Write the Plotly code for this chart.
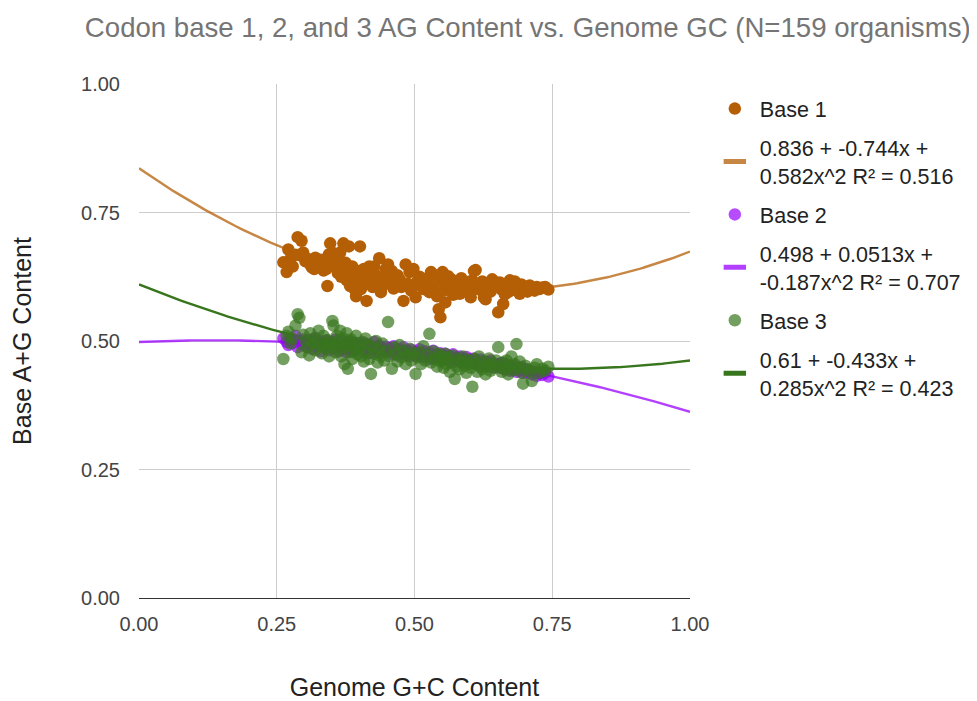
import numpy as np
import plotly.graph_objects as go

title_text = "Codon base 1, 2, and 3 AG Content vs. Genome GC (N=159 organisms)"
x_title = "Genome G+C Content"
y_title = "Base A+G Content"
tick_vals = [0.0, 0.25, 0.5, 0.75, 1.0]
tick_text = ["0.00", "0.25", "0.50", "0.75", "1.00"]

series_names = ["Base 1", "Base 2", "Base 3"]
trend_labels = [
    "0.836 + -0.744x +<br>0.582x^2 R² = 0.516",
    "0.498 + 0.0513x +<br>-0.187x^2 R² = 0.707",
    "0.61 + -0.433x +<br>0.285x^2 R² = 0.423",
]
trend_coefs = [
    [0.836, -0.744, 0.582],
    [0.498, 0.0513, -0.187],
    [0.61, -0.433, 0.285],
]

genome_gc = [
    0.262, 0.268, 0.271, 0.275, 0.279, 0.284, 0.288, 0.291, 0.295, 0.298,
    0.302, 0.305, 0.309, 0.311, 0.314, 0.318, 0.320, 0.323, 0.326, 0.329, 0.332, 0.335, 0.337, 0.340, 0.342, 0.345, 0.347, 0.349,
    0.351, 0.353, 0.355, 0.357, 0.359, 0.361, 0.363, 0.365, 0.367, 0.369, 0.371, 0.373, 0.375, 0.377, 0.379, 0.381, 0.383, 0.385, 0.387, 0.389, 0.391, 0.394, 0.396, 0.398,
    0.401, 0.403, 0.406, 0.408, 0.411, 0.413, 0.416, 0.418, 0.421, 0.424, 0.427, 0.430, 0.433, 0.436, 0.439, 0.442, 0.445, 0.448,
    0.452, 0.455, 0.459, 0.462, 0.466, 0.469, 0.473, 0.476, 0.480, 0.484, 0.487, 0.491, 0.494, 0.498,
    0.502, 0.505, 0.509, 0.512, 0.516, 0.519, 0.523, 0.527, 0.530, 0.534, 0.537, 0.541, 0.544, 0.547, 0.549,
    0.551, 0.553, 0.556, 0.558, 0.561, 0.564, 0.567, 0.570, 0.573, 0.576, 0.579, 0.582, 0.585, 0.588, 0.591, 0.594, 0.597, 0.599,
    0.602, 0.605, 0.608, 0.611, 0.614, 0.617, 0.620, 0.623, 0.626, 0.629, 0.632, 0.635, 0.638, 0.641, 0.644, 0.648,
    0.652, 0.655, 0.658, 0.661, 0.664, 0.667, 0.670, 0.673, 0.676, 0.679, 0.682, 0.685, 0.688, 0.691, 0.694, 0.697,
    0.701, 0.705, 0.709, 0.713, 0.718, 0.722, 0.727, 0.732, 0.737, 0.743,
]

base1_ag = [
    0.653, 0.634, 0.678, 0.660, 0.645, 0.668, 0.702, 0.667, 0.695, 0.672,
    0.655, 0.660, 0.653, 0.648, 0.643, 0.640, 0.662, 0.653, 0.650, 0.645, 0.658, 0.637, 0.652, 0.640, 0.607, 0.669, 0.690, 0.655,
    0.672, 0.648, 0.645, 0.662, 0.640, 0.632, 0.655, 0.672, 0.625, 0.642, 0.690, 0.630, 0.652, 0.618, 0.638, 0.684, 0.607, 0.628, 0.645, 0.612, 0.601, 0.587, 0.636, 0.620,
    0.684, 0.601, 0.625, 0.640, 0.612, 0.578, 0.632, 0.645, 0.620, 0.605, 0.645, 0.628, 0.612, 0.661, 0.595, 0.607, 0.625, 0.640,
    0.649, 0.618, 0.636, 0.602, 0.610, 0.628, 0.620, 0.605, 0.578, 0.649, 0.612, 0.634, 0.598, 0.640,
    0.585, 0.616, 0.625, 0.608, 0.601, 0.620, 0.612, 0.595, 0.634, 0.605, 0.628, 0.587, 0.562, 0.546, 0.618,
    0.634, 0.598, 0.575, 0.612, 0.626, 0.605, 0.620, 0.590, 0.614, 0.600, 0.608, 0.592, 0.622, 0.603, 0.610, 0.596, 0.615, 0.605,
    0.585, 0.618, 0.636, 0.638, 0.602, 0.610, 0.599, 0.616, 0.585, 0.581, 0.612, 0.605, 0.596, 0.620, 0.608, 0.614,
    0.556, 0.614, 0.600, 0.572, 0.591, 0.608, 0.595, 0.618, 0.612, 0.603, 0.616, 0.598, 0.605, 0.592, 0.610, 0.605,
    0.600, 0.596, 0.608, 0.601, 0.598, 0.605, 0.601, 0.604, 0.605, 0.600,
]

base2_ag = [
    0.505, 0.498, 0.492, 0.502, 0.496, 0.510, 0.488, 0.500, 0.494, 0.503,
    0.497, 0.488, 0.502, 0.493, 0.485, 0.499, 0.506, 0.490, 0.495, 0.480, 0.498, 0.492, 0.487, 0.501, 0.494, 0.482, 0.496, 0.490,
    0.498, 0.486, 0.492, 0.503, 0.489, 0.495, 0.480, 0.497, 0.491, 0.485, 0.500, 0.488, 0.494, 0.478, 0.492, 0.486, 0.499, 0.483, 0.490, 0.495, 0.481, 0.492, 0.487, 0.496,
    0.485, 0.492, 0.479, 0.496, 0.488, 0.482, 0.493, 0.476, 0.490, 0.484, 0.498, 0.480, 0.487, 0.491, 0.477, 0.486, 0.482, 0.489,
    0.480, 0.486, 0.475, 0.490, 0.482, 0.472, 0.484, 0.478, 0.488, 0.474, 0.481, 0.470, 0.483, 0.477,
    0.479, 0.471, 0.484, 0.475, 0.468, 0.480, 0.473, 0.477, 0.465, 0.481, 0.470, 0.474, 0.467, 0.476, 0.471,
    0.472, 0.466, 0.475, 0.469, 0.463, 0.471, 0.467, 0.474, 0.460, 0.468, 0.465, 0.470, 0.458, 0.466, 0.462, 0.469, 0.457, 0.464,
    0.463, 0.458, 0.466, 0.455, 0.461, 0.452, 0.464, 0.457, 0.460, 0.450, 0.459, 0.454, 0.462, 0.449, 0.456, 0.453,
    0.455, 0.448, 0.457, 0.451, 0.445, 0.453, 0.447, 0.442, 0.450, 0.444, 0.452, 0.440, 0.447, 0.443, 0.449, 0.438,
    0.445, 0.438, 0.442, 0.435, 0.440, 0.432, 0.437, 0.434, 0.438, 0.431,
]

base3_ag = [
    0.465, 0.510, 0.518, 0.495, 0.505, 0.530, 0.552, 0.545, 0.478, 0.512,
    0.500, 0.488, 0.472, 0.515, 0.495, 0.505, 0.482, 0.498, 0.520, 0.490, 0.476, 0.510, 0.494, 0.485, 0.502, 0.470, 0.497, 0.488,
    0.539, 0.530, 0.492, 0.478, 0.510, 0.500, 0.485, 0.520, 0.470, 0.495, 0.505, 0.455, 0.488, 0.515, 0.446, 0.492, 0.478, 0.503, 0.465, 0.497, 0.482, 0.510, 0.474, 0.490,
    0.485, 0.470, 0.498, 0.460, 0.505, 0.478, 0.492, 0.465, 0.436, 0.488, 0.475, 0.500, 0.458, 0.482, 0.470, 0.495, 0.462, 0.480,
    0.537, 0.470, 0.446, 0.488, 0.475, 0.460, 0.492, 0.468, 0.480, 0.455, 0.472, 0.485, 0.462, 0.476,
    0.436, 0.468, 0.478, 0.455, 0.490, 0.462, 0.472, 0.514, 0.458, 0.480, 0.465, 0.450, 0.475, 0.460, 0.470,
    0.462, 0.448, 0.475, 0.455, 0.468, 0.440, 0.458, 0.472, 0.426, 0.450, 0.465, 0.445, 0.460, 0.470, 0.452, 0.438, 0.463, 0.455,
    0.448, 0.411, 0.465, 0.455, 0.440, 0.470, 0.450, 0.445, 0.460, 0.435, 0.452, 0.466, 0.442, 0.456, 0.448, 0.462,
    0.488, 0.450, 0.440, 0.458, 0.445, 0.462, 0.435, 0.452, 0.470, 0.443, 0.455, 0.494, 0.447, 0.460, 0.438, 0.417,
    0.452, 0.445, 0.440, 0.422, 0.448, 0.455, 0.438, 0.446, 0.442, 0.450,
]

marker_colors = ["#b45f06", "#9900ff", "#38761d"]
marker_opacity = [1.0, 0.7, 0.7]
line_colors = ["rgba(180,95,6,0.75)", "rgba(153,0,255,0.75)", "#38761d"]

FONT = "Liberation Sans, Arial, sans-serif"

fig = go.Figure()

xs = np.linspace(0, 1, 201)
# trendlines first (under points)
for i, c in enumerate(trend_coefs):
    ys = c[0] + c[1] * xs + c[2] * xs ** 2
    fig.add_trace(go.Scatter(x=xs, y=ys, mode="lines", line=dict(color=line_colors[i], width=2.4),
                             showlegend=False, hoverinfo="skip"))

for i, (name, yv) in enumerate(zip(series_names, [base1_ag, base2_ag, base3_ag])):
    n = min(len(genome_gc), len(yv))
    fig.add_trace(go.Scatter(x=genome_gc[:n], y=yv[:n], mode="markers", name=name,
                             marker=dict(color=marker_colors[i], size=12.5, opacity=marker_opacity[i], line=dict(width=0)),
                             legendgroup=f"g{2*i}", legendrank=2 * i))
    # legend entry for trendline
    fig.add_trace(go.Scatter(x=[None], y=[None], mode="markers", name=trend_labels[i],
                             marker=dict(symbol="line-ew", size=16, line=dict(color=line_colors[i], width=5)),
                             legendgroup=f"g{2*i+1}", legendrank=2 * i + 1))

# page offset compensation: plot area 558 x 516
L, T = 124, 76
fig.update_layout(
    width=977, height=701,
    paper_bgcolor="white", plot_bgcolor="white",
    margin=dict(l=L, r=977 - L - 558, t=T, b=701 - T - 516),
    font=dict(family=FONT, color="#222222"),
    title=dict(text=title_text, x=0.532, xanchor="center", y=0.973, yanchor="middle",
               font=dict(size=27.6, color="#757575", family=FONT)),
    xaxis=dict(range=[0, 1], tickvals=tick_vals, ticktext=tick_text, showgrid=True, gridcolor="#cccccc",
               gridwidth=1, zeroline=False, showline=False, ticks="", ticklabelstandoff=12,
               tickfont=dict(size=20, color="#444444"),
               title=dict(text=x_title, font=dict(size=25, color="#222222"), standoff=44)),
    yaxis=dict(range=[0, 1], tickvals=tick_vals, ticktext=tick_text, showgrid=True, gridcolor="#cccccc",
               gridwidth=1, zeroline=True, zerolinecolor="#333333", zerolinewidth=1, showline=False, ticks="",
               ticklabelstandoff=18, tickfont=dict(size=20, color="#444444"),
               title=dict(text=y_title, font=dict(size=25, color="#222222"), standoff=44)),
    legend=dict(x=1.036, xanchor="left", y=0.992, yanchor="top", font=dict(size=21.5, color="#222222"),
                tracegroupgap=8, itemwidth=40, bgcolor="rgba(0,0,0,0)"),
    showlegend=True,
)

fig.write_html("out.html")
